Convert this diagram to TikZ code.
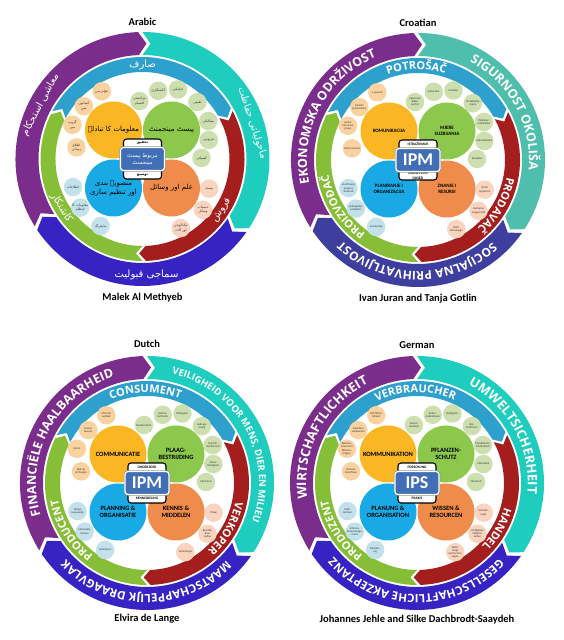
\documentclass[tikz,border=0pt]{standalone}
\usepackage{fontspec}
\setmainfont{Carlito}
\newfontfamily\ringfamily{Open Sans}
\newfontfamily\urdu[Script=Arabic]{DejaVu Sans}
\usetikzlibrary{decorations.text}
\TeXXeTstate=1

\definecolor{ringpurple}{RGB}{123,45,140}
\definecolor{ringteal}{RGB}{30,205,190}
\definecolor{ringindigo}{RGB}{55,35,195}
\definecolor{ringblue}{RGB}{45,160,205}
\definecolor{ringred}{RGB}{165,30,30}
\definecolor{ringgreen}{RGB}{135,190,55}
\definecolor{bigorange}{RGB}{250,182,35}
\definecolor{biggreen}{RGB}{140,200,75}
\definecolor{bigblue}{RGB}{25,170,230}
\definecolor{bigpeach}{RGB}{240,140,75}
\definecolor{smallorange}{RGB}{250,210,160}
\definecolor{smallgreen}{RGB}{205,222,175}
\definecolor{smallblue}{RGB}{195,225,235}
\definecolor{smallpeach}{RGB}{250,212,190}
\definecolor{ipmblue}{RGB}{65,110,180}

\newcommand{\ur}[1]{{\urdu\beginR #1\endR}}
\newcommand{\rsz}{12}
\newcommand{\ringfont}{\ringfamily\bfseries\fontsize{\rsz}{\rsz}\selectfont\color{white}}

\tikzset{
  bigc/.style={circle,minimum size=57pt,inner sep=0pt,align=center,font=\fontsize{6.5}{7.5}\selectfont\bfseries},
  smallc/.style={circle,minimum size=18.5pt,inner sep=0pt,align=center,text=black!80,font=\fontsize{2.8}{3.2}\selectfont},
  hubframe/.style={draw=black,line width=1.1pt,fill=white,rounded corners=3pt,minimum width=38pt,minimum height=40pt},
  hubtext/.style={inner sep=0pt,align=center,font=\fontsize{3.6}{4.2}\selectfont\bfseries},
  ipmbox/.style={fill=ipmblue,draw=white,line width=1.2pt,rounded corners=3pt,minimum width=44pt,minimum height=23pt,
    inner sep=0pt,text=white,align=center,font=\fontsize{18}{18}\selectfont\bfseries,preaction={draw=black!45,line width=2.4pt}},
  ringur/.style={text=white,inner sep=0pt,font=\fontsize{10}{10}\selectfont},
  headline/.style={font=\fontsize{10.5}{10.5}\selectfont\bfseries}
}

% one curved arrow of a ring: r in, r out, from, to (clockwise), colour
\newcommand{\bandarrow}[5]{%
  \fill[#5] (#3:#2) arc[start angle=#3,end angle=#4,radius=#2]
    -- ({#4-4}:{(#1+#2)/2}) -- (#4:#1)
    arc[start angle=#4,end angle=#3,radius=#1]
    -- ({#3-4}:{(#1+#2)/2}) -- cycle;}
\newcommand{\ringframe}{%
  \bandarrow{104}{127}{212}{92}{ringpurple}
  \bandarrow{104}{127}{90}{-33}{ringteal}
  \bandarrow{104}{127}{-35}{-146}{ringindigo}
  \bandarrow{87}{102}{152}{30}{ringblue}
  \bandarrow{87}{102}{28}{-88}{ringred}
  \bandarrow{87}{102}{-90}{-206}{ringgreen}}
% text on a ring: mid radius, from, to, size, text
\newcommand{\rtext}[5]{%
  \renewcommand{\rsz}{#4}%
  \pgfmathsetmacro{\rb}{#1-0.36*#4}%
  \path[decorate,decoration={text along path,text align=center,text={|\ringfont|#5}}]
    (#2:\rb) arc[start angle=#2,end angle=#3,radius=\rb];}
\newcommand{\bigfour}[5]{%
  \node[bigc,fill=bigorange] (#1-comm) at (-29,29) {#2};
  \node[bigc,fill=biggreen] (#1-pest) at (29,29) {#3};
  \node[bigc,fill=bigblue] (#1-plan) at (-29,-29) {#4};
  \node[bigc,fill=bigpeach] (#1-know) at (29,-29) {#5};}
\newcommand{\hub}[4]{%
  \node[hubframe] (#1-frame) at (0,0) {};
  \node[hubtext] (#1-top) at (0,15.8) {#2};
  \node[hubtext] (#1-bottom) at (0,-15.8) {#4};
  \node[ipmbox] (#1-core) at (0,0) {#3};}
\newcommand{\orangesmalls}[5]{%
  \foreach \ang/\rad/\txt [count=\i] in {121/79/{#2},138/79/{#3},154/78/{#4},170/67/{#5}}
    \node[smallc,fill=smallorange] (#1-o\i) at (\ang:\rad) {\txt};}
\newcommand{\greensmalls}[8]{%
  \foreach \ang/\rad/\txt [count=\i] in {93/58/{#2},77/70/{#3},63/78/{#4},46/79/{#5},30/76/{#6},16/69/{#7},1/59/{#8}}
    \node[smallc,fill=smallgreen] (#1-g\i) at (\ang:\rad) {\txt};}
\newcommand{\bluesmalls}[4]{%
  \foreach \ang/\rad/\txt [count=\i] in {202/75/{#2},218/79/{#3},238/79/{#4}}
    \node[smallc,fill=smallblue] (#1-b\i) at (\ang:\rad) {\txt};}
\newcommand{\peachsmalls}[4]{%
  \foreach \ang/\rad/\txt [count=\i] in {-24/73/{#2},-40/79/{#3},-61/79/{#4}}
    \node[smallc,fill=smallpeach] (#1-p\i) at (\ang:\rad) {\txt};}

\begin{document}
\begin{tikzpicture}[x=1pt,y=1pt]
  \useasboundingbox[fill=white] (0,0) rectangle (563,640);

  % Arabic
  \begin{scope}[shift={(142.5,481)}]
    \ringframe
    \node[ringur,rotate=62] (ar-econ) at (152:115.5) {\ur{معاشی استحکام}};
    \node[ringur,rotate=-72] (ar-env) at (18:115.5) {\ur{ماحولیاتی حفاظت}};
    \node[ringur] (ar-soc) at (-88:115.5) {\ur{سماجی قبولیت}};
    \node[ringur] (ar-cons) at (90:94.5) {\ur{صارف}};
    \node[ringur,rotate=57] (ar-sell) at (-33:94.5) {\ur{فروش}};
    \node[ringur,rotate=-59] (ar-farm) at (211:94.5) {\ur{کاشتکار}};
    \tikzset{smallc/.append style={font=\fontsize{3.4}{4.2}\selectfont},
      bigc/.append style={font=\fontsize{7}{9}\selectfont},
      ipmbox/.append style={font=\fontsize{5.5}{7}\selectfont}}
    \orangesmalls{ar}{\ur{عوام میں}}{\ur{کسانوں}\\\ur{میں}}{\ur{گروپ}\\\ur{میں}}{\ur{اطلاع}\\\ur{رسانی}}
    \greensmalls{ar}{\ur{مزاحمتی}\\\ur{اقسام}}{\ur{کاشتکاری}}{\ur{حیاتیاتی}}{\ur{طبعی}}{\ur{میکانکی}}{\ur{جرثومی}}{\ur{کیمیائی}}
    \bluesmalls{ar}{\ur{اطلاعات}}{\ur{معلومات کا}\\\ur{انتظام}}{\ur{مانیٹرنگ}}
    \peachsmalls{ar}{\ur{پیسٹ}}{\ur{دستیاب}\\\ur{وسائل}}{\ur{ٹیکنالوجی}\\\ur{اور آلات}}
    \bigfour{ar}{\ur{معلومات کا تبادلہ}}{\ur{پیسٹ مینجمنٹ}}{\ur{منصوبہ بندی}\\\ur{اور تنظیم سازی}}{\ur{علم اور وسائل}}
    \hub{ar}{\ur{تحقیق}}{\ur{مربوط پیسٹ}\\\ur{مینجمنٹ}}{\ur{توسیع}}
    \node[headline] (ar-title) at (0,137) {Arabic};
    \node[headline] (ar-author) at (0,-139) {Malek Al Methyeb};
  \end{scope}

  % Croatian
  \begin{scope}[shift={(418,480)}]
    \colorlet{ringteal}{rgb,255:red,80;green,190;blue,172}
    \colorlet{ringindigo}{rgb,255:red,62;green,62;blue,158}
    \ringframe
    \rtext{115.5}{212}{92}{12.5}{EKONOMSKA ODRŽIVOST}
    \rtext{115.5}{90}{-33}{12.5}{SIGURNOST OKOLIŠA}
    \rtext{115.5}{-35}{-146}{12}{SOCIJALNA PRIHVATLJIVOST}
    \rtext{94.5}{152}{30}{11}{POTROŠAČ}
    \rtext{94.5}{28}{-88}{11}{PRODAVAČ}
    \rtext{94.5}{-90}{-206}{11}{PROIZVOĐAČ}
    \tikzset{bigc/.append style={font=\fontsize{5}{6.5}\selectfont\bfseries}}
    \orangesmalls{hr}{u javnosti}{između\\proizvođača}{unutar\\interesne\\grupe}{informiranost}
    \greensmalls{hr}{otpornost\\biljke\\(sorte)}{kulturalne}{biološke}{biotehničke\\mjere}{fizikalne/\\mehaničke}{mikrobiološke}{kemijske}
    \bluesmalls{hr}{utvrđivanje\\pragova\\štetnosti}{prikupljanje\\podataka}{monitoring}
    \peachsmalls{hr}{štetni\\organizmi}{dostupne\\mogućnosti}{alati i\\tehnologija}
    \bigfour{hr}{KOMUNIKACIJA}{MJERE\\SUZBIJANJA}{PLANIRANJE I\\ORGANIZACIJA}{ZNANJE I\\RESURSI}
    \hub{hr}{ISTRAŽIVANJE}{IPM}{ZNANSTVENI\\DOSEZI}
    \node[headline] (hr-title) at (0,137) {Croatian};
    \node[headline] (hr-author) at (0,-139) {Ivan Juran and Tanja Gotlin};
  \end{scope}

  % Dutch
  \begin{scope}[shift={(147,157)}]
    \ringframe
    \rtext{115.5}{212}{92}{12.5}{FINANCIËLE HAALBAARHEID}
    \rtext{115.5}{90}{-33}{9.5}{VEILIGHEID VOOR MENS{,} DIER EN MILIEU}
    \rtext{115.5}{-35}{-146}{11.5}{MAATSCHAPPELIJK DRAAGVLAK}
    \rtext{94.5}{152}{30}{11}{CONSUMENT}
    \rtext{94.5}{28}{-88}{11}{VERKOPER}
    \rtext{94.5}{-90}{-206}{11}{PRODUCENT}
    \orangesmalls{nl}{Met het\\publiek}{Tussen\\boeren}{Intern}{Blijf op\\de hoogte}
    \greensmalls{nl}{Biodiversiteit}{Cultuur-\\technisch}{Biologisch}{Gedrags-\\matig}{Fysisch/\\mechanisch}{Micro-\\biologisch}{Chemisch}
    \bluesmalls{nl}{Tijdige\\toepassing}{Informatie-\\beheer}{Monitoren}
    \peachsmalls{nl}{Plaag}{Beschik-\\bare\\opties}{Technologie}
    \bigfour{nl}{COMMUNICATIE}{PLAAG-\\BESTRIJDING}{PLANNING \&\\ORGANISATIE}{KENNIS \&\\MIDDELEN}
    \hub{nl}{ONDERZOEK}{IPM}{KENNISDELING}
    \node[headline] (nl-title) at (0,139) {Dutch};
    \node[headline] (nl-author) at (0,-136) {Elvira de Lange};
  \end{scope}

  % German
  \begin{scope}[shift={(417,157)}]
    \ringframe
    \rtext{115.5}{212}{92}{13}{WIRTSCHAFTLICHKEIT}
    \rtext{115.5}{90}{-33}{13}{UMWELTSICHERHEIT}
    \rtext{115.5}{-35}{-146}{11.5}{GESELLSCHAFTLICHE AKZEPTANZ}
    \rtext{94.5}{152}{30}{11}{VERBRAUCHER}
    \rtext{94.5}{28}{-88}{11}{HANDEL}
    \rtext{94.5}{-90}{-206}{11}{PRODUZENT}
    \orangesmalls{de}{Mit Öffent-\\lichkeit}{Zwischen\\Landwirten}{Betriebs-\\intern/mit\\Wissens-\\trägern}{Informa-\\tionsflüsse}
    \greensmalls{de}{Sorten-\\resistenz}{Kultur-\\maßnahmen}{Biologisch}{Bio-\\technisch}{Physikalisch/\\Mechanisch}{Mikrobiell}{Chemisch}
    \bluesmalls{de}{Maß-\\nahmen}{Informa-\\tionsmanage-\\ment}{Monitor-\\ing}
    \peachsmalls{de}{Schader-\\reger}{Verfügbare\\Möglich-\\keiten}{Werk-\\zeuge\\und Techno-\\logien}
    \bigfour{de}{KOMMUNIKATION}{PFLANZEN-\\SCHUTZ}{PLANUNG \&\\ORGANISATION}{WISSEN \&\\RESOURCEN}
    \hub{de}{FORSCHUNG}{IPS}{PRAXIS}
    \node[headline] (de-title) at (0,138) {German};
    \node[headline] (de-author) at (0,-137) {Johannes Jehle and Silke Dachbrodt-Saaydeh};
  \end{scope}
\end{tikzpicture}
\end{document}
